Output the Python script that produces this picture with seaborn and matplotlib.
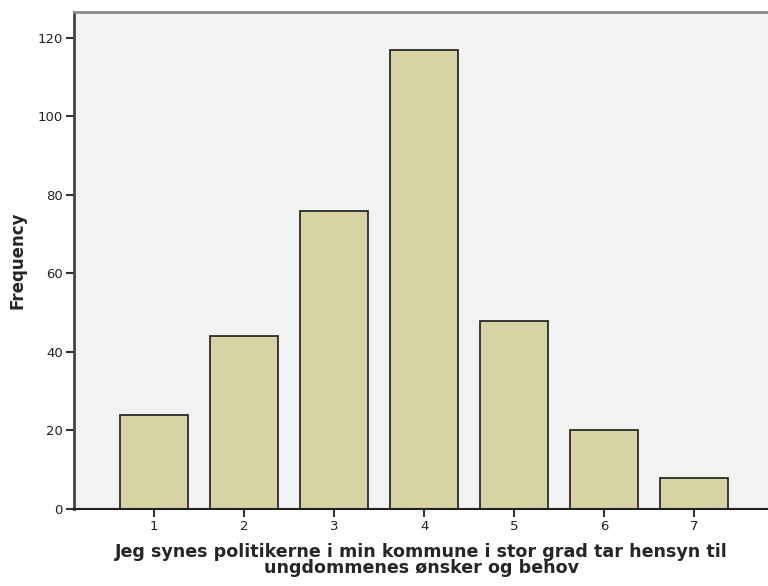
import matplotlib
matplotlib.use("Agg")
import matplotlib.pyplot as plt
import seaborn as sns
import pandas as pd

categories = ["1", "2", "3", "4", "5", "6", "7"]
frequencies = [24, 44, 76, 117, 48, 20, 8]
y_ticks = [0, 20, 40, 60, 80, 100, 120]
x_label = "Jeg synes politikerne i min kommune i stor grad tar hensyn til\nungdommenes ønsker og behov"
y_label = "Frequency"

df = pd.DataFrame({"cat": categories, "freq": frequencies})

sns.set_theme(style="white")
plt.rcParams["font.family"] = ["DejaVu Sans"]

fig = plt.figure(figsize=(7.68, 5.86), dpi=100)
ax = fig.add_axes([74/768, 77/586, 1 - 74/768, (509-12)/586])
ax.set_facecolor("#F2F2F2")

sns.barplot(data=df, x="cat", y="freq", color="#D6D4A4", saturation=1,
            width=0.756, edgecolor="#1a1a1a", linewidth=1.2, ax=ax)

ax.set_xlim(-0.889, 6.82)
ax.set_ylim(0, 126.6)
ax.set_yticks(y_ticks)
ax.set_yticklabels([str(v) for v in y_ticks], fontsize=9.5, color="#222222")
ax.tick_params(axis="x", labelsize=9.5, labelcolor="#222222")
ax.tick_params(axis="both", direction="out", length=6, width=1.5, color="#333333",
               bottom=True, left=True, pad=2)

ax.spines["right"].set_visible(False)
ax.spines["top"].set_color("#8a8a8a")
ax.spines["top"].set_linewidth(2)
ax.spines["left"].set_color("#444444")
ax.spines["left"].set_linewidth(2)
ax.spines["bottom"].set_color("#222222")
ax.spines["bottom"].set_linewidth(1.5)

ax.set_xlabel(x_label, fontsize=12.6, fontweight="bold", linespacing=0.9, labelpad=7)
ax.set_ylabel(y_label, fontsize=12, fontweight="bold", labelpad=8)

fig.savefig("out.png", dpi=100)
